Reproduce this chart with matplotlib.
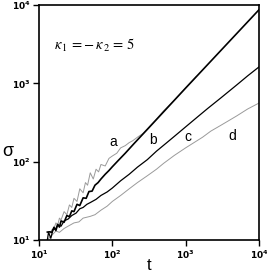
import matplotlib
matplotlib.use('Agg')
import matplotlib.pyplot as plt
from matplotlib.ticker import LogLocator, NullLocator

# curve b (thick black)
t_b = [13, 14, 15, 16, 17, 18, 19, 20, 22, 24, 26, 28, 30, 33, 36, 40, 44, 48, 53, 58, 64, 70,
       80, 90, 100, 120, 150, 200, 300, 500, 1000, 2000, 5000, 10000]
s_b = [12.6, 12.7, 12.5, 14.5, 13.2, 15.8, 14.6, 17.5, 16.8, 20.5, 19.8, 23.5, 23, 28.5, 27.5, 34.5,
       34, 41.5, 42, 50, 54, 60, 69, 77, 86, 103, 128, 172, 258, 432, 870, 1740, 4350, 8700]

# curve c (thin black)
t_c = [13, 13.5, 14.5, 15.5, 17, 18, 20, 22, 25, 28, 32, 36, 40, 45, 50, 60, 70, 85, 100, 130,
       170, 220, 300, 400, 550, 700, 1000, 1500, 2000, 3000, 5000, 7000, 10000]
s_c = [10, 12.5, 10.5, 13.5, 14, 15.5, 15, 17.5, 18.5, 20.5, 22, 25, 26, 28.5, 30, 33, 37, 41, 46,
       57, 69, 85, 106, 136, 174, 210, 278, 382, 478, 648, 958, 1245, 1620]

# curve a (grey, noisy, merges into b)
t_a = [14, 15, 16, 17, 18, 19, 20, 22, 24, 26, 28, 30, 33, 36, 40, 43, 46, 50, 55, 60, 65, 70,
       80, 90, 100, 115, 130, 150, 170, 190, 220, 260, 300, 400, 500, 700, 1000, 1400]
s_a = [12, 13.5, 14, 16.5, 15.5, 19, 18, 23, 21, 28, 26, 34, 31, 45, 40, 54, 50, 72, 60, 80, 74, 92,
       88, 110, 118, 128, 150, 160, 175, 185, 205, 228, 262, 350, 445, 610, 880, 1230]

# curve d (grey, lowest)
t_d = [13, 15, 17, 19, 22, 25, 30, 35, 40, 50, 58, 70, 85, 100, 130, 170, 220, 300, 400, 500,
       700, 1000, 1300, 1700, 2200, 3000, 4000, 5000, 7000, 10000]
s_d = [10, 11.5, 13, 12.5, 14, 15, 16.5, 17, 19, 20, 21, 24, 27, 31, 37, 45, 54, 66, 80, 95,
       120, 150, 175, 205, 245, 290, 340, 385, 470, 560]

fig = plt.figure(figsize=(2.67, 2.79), dpi=100)
ax = fig.add_axes([0.146, 0.140, 0.824, 0.842])

ax.plot(t_a, s_a, color='#9a9a9a', lw=0.7)
ax.plot(t_d, s_d, color='#9a9a9a', lw=0.7)
ax.plot(t_c, s_c, color='black', lw=0.9)
ax.plot(t_b, s_b, color='black', lw=1.2)

ax.set_xscale('log')
ax.set_yscale('log')
ax.set_xlim(10, 1e4)
ax.set_ylim(10, 1e4)
ax.xaxis.set_major_locator(LogLocator(base=10, numticks=10))
ax.yaxis.set_major_locator(LogLocator(base=10, numticks=10))
ax.xaxis.set_minor_locator(NullLocator())
ax.yaxis.set_minor_locator(NullLocator())
ax.tick_params(direction='out', length=4, width=1, labelsize=6.5, pad=2)
for lab in ax.get_xticklabels() + ax.get_yticklabels():
    lab.set_fontweight('bold')
for sp in ax.spines.values():
    sp.set_linewidth(1.2)

ax.set_xlabel('t', fontsize=12, family='Liberation Sans', labelpad=-2)
ax.set_ylabel('σ', fontsize=13, family='Liberation Sans', rotation=0, va='center')
ax.yaxis.set_label_coords(-0.14, 0.375)

ax.text(0.07, 0.81, r'$\kappa_{\,1}\,=-\,\kappa_{\,2}\,=\,5$', transform=ax.transAxes,
        fontsize=10.5, math_fontfamily='stix')

for s, tx, ty in [('a', 113, 142), ('b', 153, 140), ('c', 188, 137), ('d', 232, 136)]:
    fig.text(tx / 267, 1 - ty / 279, s, fontsize=10, family='Liberation Sans', ha='center', va='center')

fig.savefig('out.png', dpi=100)
